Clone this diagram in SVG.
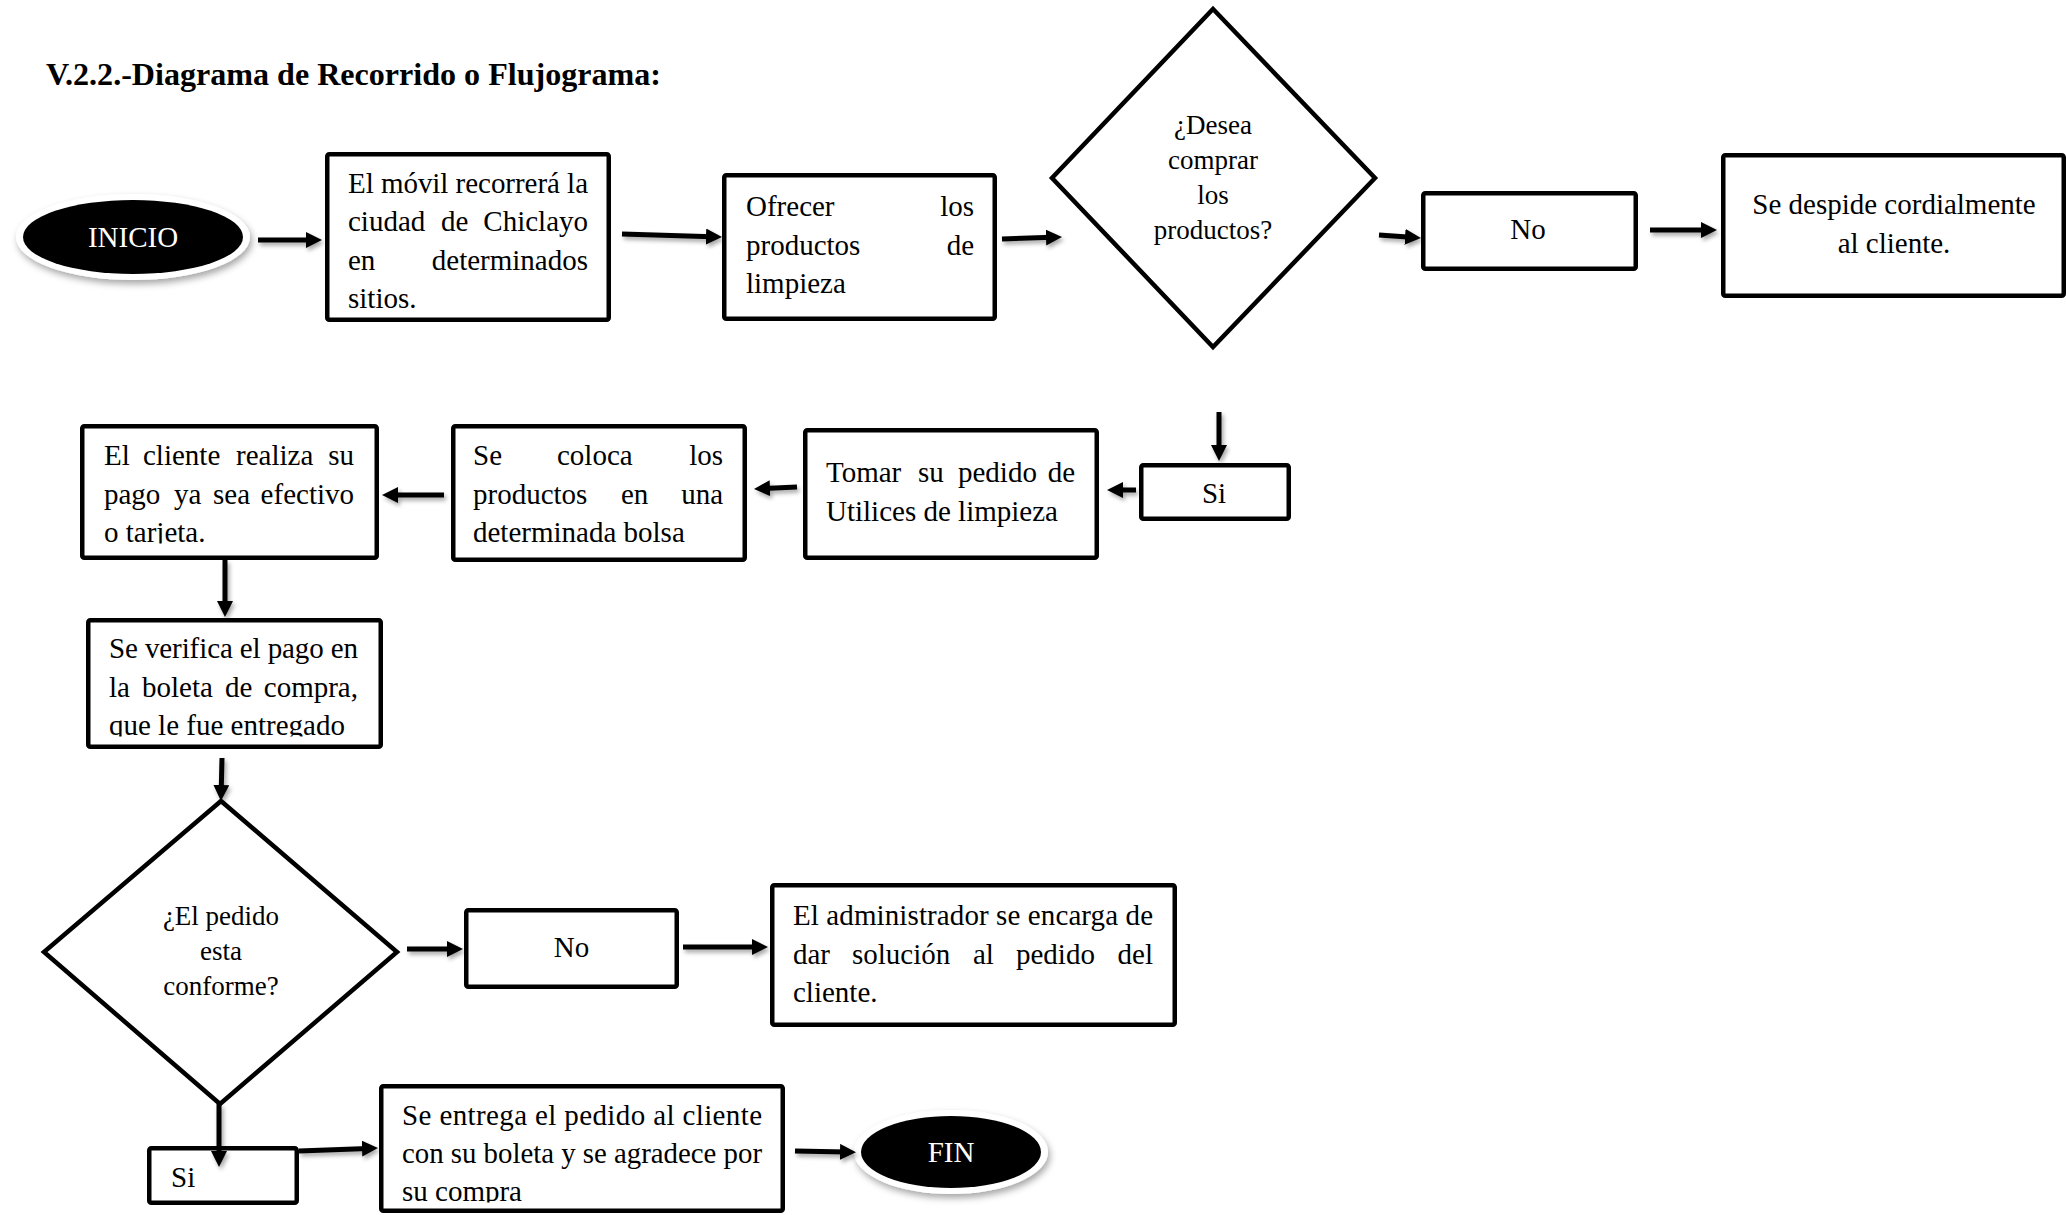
<svg xmlns="http://www.w3.org/2000/svg" width="2066" height="1215" viewBox="0 0 2066 1215">
<style>
  .t{font-family:"Liberation Serif","Times New Roman",serif;font-size:29px;fill:#000}
  .d{font-family:"Liberation Serif","Times New Roman",serif;font-size:27px;fill:#000;text-anchor:middle}
  .c{text-anchor:middle}
  .e{text-anchor:end}
  .w{fill:#fff;text-anchor:middle}
  .box{fill:#fff;stroke:#000;stroke-width:4.5}
  .dia{fill:#fff;stroke:#000;stroke-width:4.5;stroke-linejoin:miter}
  .arr{fill:none;stroke:#000;stroke-width:5;marker-end:url(#ah)}
</style>
<defs>
  <marker id="ah" markerUnits="userSpaceOnUse" markerWidth="17" markerHeight="17" refX="6" refY="8" orient="auto" viewBox="0 0 17 17">
    <path d="M0,0 L16,8 L0,16 z" fill="#000"/>
  </marker>
  <filter id="sh" filterUnits="userSpaceOnUse" x="0" y="0" width="2066" height="1215">
    <feDropShadow dx="2" dy="3" stdDeviation="2" flood-color="#000" flood-opacity="0.35"/>
  </filter>
  <filter id="glow" x="-20%" y="-30%" width="140%" height="170%">
    <feDropShadow dx="2" dy="4" stdDeviation="3.5" flood-color="#000" flood-opacity="0.35"/>
  </filter>
  <clipPath id="clipCliente"><rect x="85" y="428" width="290" height="115.5"/></clipPath>
  <clipPath id="clipVerifica"><rect x="90" y="622" width="290" height="114.5"/></clipPath>
  <clipPath id="clipEntrega"><rect x="383" y="1088" width="398" height="114.5"/></clipPath>
</defs>
<rect width="2066" height="1215" fill="#fff"/>

<text class="t" x="46" y="85" style="font-weight:bold;font-size:31px" textLength="615" lengthAdjust="spacingAndGlyphs">V.2.2.-Diagrama de Recorrido o Flujograma:</text>

<g id="inicio">
  <ellipse cx="133" cy="237" rx="117" ry="43" fill="#fff" filter="url(#glow)"/>
  <ellipse cx="133" cy="237" rx="110" ry="37" fill="#000"/>
  <text class="t w" x="133" y="247">INICIO</text>
</g>

<g id="movil">
  <rect class="box" x="327.25" y="154.25" width="281.5" height="165.5" rx="2"/>
  <text class="t" x="348" y="192.5" textLength="240" lengthAdjust="spacing">El móvil recorrerá la</text>
  <text class="t" y="231"><tspan x="348">ciudad</tspan><tspan x="441">de</tspan><tspan x="588" class="e">Chiclayo</tspan></text>
  <text class="t" y="269.5"><tspan x="348">en</tspan><tspan x="588" class="e">determinados</tspan></text>
  <text class="t" x="348" y="308">sitios.</text>
</g>

<g id="ofrecer">
  <rect class="box" x="724.25" y="175.25" width="270.5" height="143.5" rx="2"/>
  <text class="t" y="216"><tspan x="746">Ofrecer</tspan><tspan x="974" class="e">los</tspan></text>
  <text class="t" y="255"><tspan x="746">productos</tspan><tspan x="974" class="e">de</tspan></text>
  <text class="t" x="746" y="293">limpieza</text>
</g>

<g id="desea">
  <polygon class="dia" points="1213,9 1375,178 1213,347 1052,178"/>
  <text class="d" x="1213" y="134">¿Desea</text>
  <text class="d" x="1213" y="169">comprar</text>
  <text class="d" x="1213" y="204">los</text>
  <text class="d" x="1213" y="239">productos?</text>
</g>

<g id="no1">
  <rect class="box" x="1423.25" y="193.25" width="212.5" height="75.5" rx="2"/>
  <text class="t c" x="1528" y="239">No</text>
</g>

<g id="despide">
  <rect class="box" x="1723.25" y="155.25" width="340.5" height="140.5" rx="2"/>
  <text class="t c" x="1894" y="214">Se despide cordialmente</text>
  <text class="t c" x="1894" y="253">al cliente.</text>
</g>

<g id="si1">
  <rect class="box" x="1141.25" y="465.25" width="147.5" height="53.5" rx="2"/>
  <text class="t c" x="1214" y="503">Si</text>
</g>

<g id="tomar">
  <rect class="box" x="805.25" y="430.25" width="291.5" height="127.5" rx="2"/>
  <text class="t" y="482"><tspan x="826">Tomar</tspan><tspan x="918">su</tspan><tspan x="958">pedido</tspan><tspan x="1075" class="e">de</tspan></text>
  <text class="t" x="826" y="521">Utilices de limpieza</text>
</g>

<g id="coloca">
  <rect class="box" x="453.25" y="426.25" width="291.5" height="133.5" rx="2"/>
  <text class="t" y="465"><tspan x="473">Se</tspan><tspan x="557">coloca</tspan><tspan x="723" class="e">los</tspan></text>
  <text class="t" y="503.5"><tspan x="473">productos</tspan><tspan x="621">en</tspan><tspan x="723" class="e">una</tspan></text>
  <text class="t" x="473" y="542">determinada bolsa</text>
</g>

<g id="cliente">
  <rect class="box" x="82.25" y="426.25" width="294.5" height="131.5" rx="2"/>
  <g clip-path="url(#clipCliente)">
    <text class="t" y="465"><tspan x="104">El</tspan><tspan x="143">cliente</tspan><tspan x="236">realiza</tspan><tspan x="354" class="e">su</tspan></text>
    <text class="t" y="503.5"><tspan x="104">pago</tspan><tspan x="174">ya</tspan><tspan x="213">sea</tspan><tspan x="354" class="e">efectivo</tspan></text>
    <text class="t" x="104" y="542">o tarjeta.</text>
  </g>
</g>

<g id="verifica">
  <rect class="box" x="88.25" y="620.25" width="292.5" height="126.5" rx="2"/>
  <g clip-path="url(#clipVerifica)">
    <text class="t" x="109" y="658" textLength="249" lengthAdjust="spacing">Se verifica el pago en</text>
    <text class="t" y="697"><tspan x="109">la</tspan><tspan x="142">boleta</tspan><tspan x="225">de</tspan><tspan x="358" class="e">compra,</tspan></text>
    <text class="t" x="109" y="735">que le fue entregado</text>
  </g>
</g>

<g id="conforme">
  <polygon class="dia" points="221,801 397,952 220,1104 44,952"/>
  <text class="d" x="221" y="925">¿El pedido</text>
  <text class="d" x="221" y="960">esta</text>
  <text class="d" x="221" y="995">conforme?</text>
</g>

<g id="no2">
  <rect class="box" x="466.25" y="910.25" width="210.5" height="76.5" rx="2"/>
  <text class="t c" x="571.5" y="957">No</text>
</g>

<g id="admin">
  <rect class="box" x="772.25" y="885.25" width="402.5" height="139.5" rx="2"/>
  <text class="t" x="793" y="925" textLength="360" lengthAdjust="spacing">El administrador se encarga de</text>
  <text class="t" y="963.5"><tspan x="793">dar</tspan><tspan x="852">solución</tspan><tspan x="973">al</tspan><tspan x="1016">pedido</tspan><tspan x="1153" class="e">del</tspan></text>
  <text class="t" x="793" y="1002">cliente.</text>
</g>

<g id="si2">
  <rect class="box" x="149.25" y="1148.25" width="147.5" height="54.5" rx="2"/>
  <text class="t" x="171" y="1187">Si</text>
</g>

<g id="entrega">
  <rect class="box" x="381.25" y="1086.25" width="401.5" height="124.5" rx="2"/>
  <g clip-path="url(#clipEntrega)">
    <text class="t" x="402" y="1125" textLength="360" lengthAdjust="spacing">Se entrega el pedido al cliente</text>
    <text class="t" x="402" y="1163" textLength="360" lengthAdjust="spacingAndGlyphs">con su boleta y se agradece por</text>
    <text class="t" x="402" y="1201">su compra</text>
  </g>
</g>

<g id="fin">
  <ellipse cx="951" cy="1152" rx="97" ry="42" fill="#fff" filter="url(#glow)"/>
  <ellipse cx="951" cy="1152" rx="90" ry="36" fill="#000"/>
  <text class="t w" x="951" y="1162">FIN</text>
</g>

<g id="connectors" filter="url(#sh)">
  <path class="arr" d="M258,240 L312,240"/>
  <path class="arr" d="M622,234 L712,236.7"/>
  <path class="arr" d="M1002,239 L1052,237.3"/>
  <path class="arr" d="M1379,235 L1411,237.3"/>
  <path class="arr" d="M1650,230 L1707,230"/>
  <path class="arr" d="M1219,412 L1219,451"/>
  <path class="arr" d="M1136,490 L1117,490"/>
  <path class="arr" d="M797,487 L764,488.5"/>
  <path class="arr" d="M444,495 L392,495"/>
  <path class="arr" d="M225,560 L225,607"/>
  <path class="arr" d="M222,758 L221.2,791"/>
  <path class="arr" d="M407,949 L453,949"/>
  <path class="arr" d="M683,947 L758,947"/>
  <path class="arr" d="M219,1104 L219,1157"/>
  <path class="arr" d="M299,1151 L368,1148.4"/>
  <path class="arr" d="M795,1151 L846,1152"/>
</g>
</svg>
